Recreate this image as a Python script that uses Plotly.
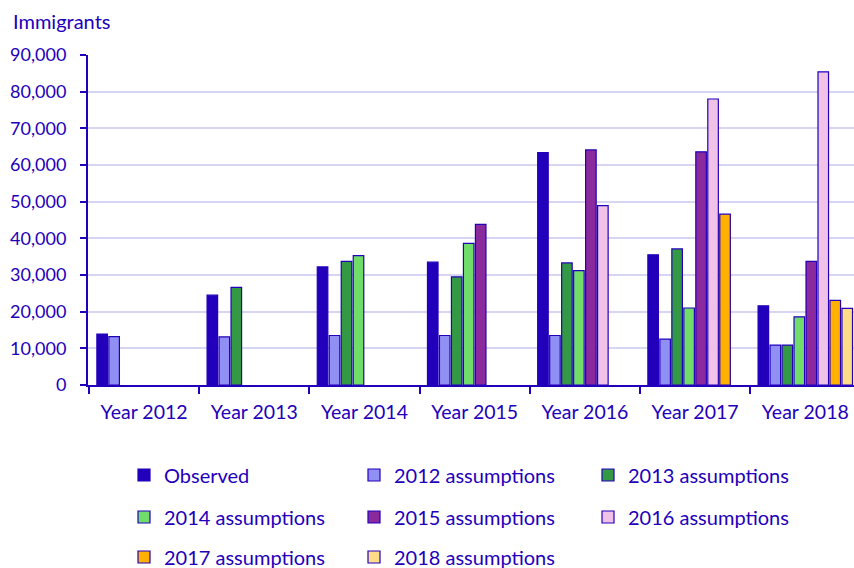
import plotly.graph_objects as go

years = ["Year 2012", "Year 2013", "Year 2014", "Year 2015", "Year 2016", "Year 2017", "Year 2018"]
observed = [13900, 24500, 32200, 33500, 63400, 35500, 21600]
ass2012 = [13200, 13100, 13500, 13500, 13500, 12500, 10900]
ass2013 = [None, 26600, 33700, 29500, 33300, 37100, 10900]
ass2014 = [None, None, 35300, 38600, 31200, 21000, 18600]
ass2015 = [None, None, None, 43800, 64100, 63600, 33700]
ass2016 = [None, None, None, None, 48900, 78000, 85400]
ass2017 = [None, None, None, None, None, 46600, 23100]
ass2018 = [None, None, None, None, None, None, 20900]

series_names = ["Observed", "2012 assumptions", "2013 assumptions", "2014 assumptions",
                "2015 assumptions", "2016 assumptions", "2017 assumptions", "2018 assumptions"]
series_values = [observed, ass2012, ass2013, ass2014, ass2015, ass2016, ass2017, ass2018]
colors = ["#2200bb", "#9090f4", "#339944", "#70dd6b", "#8b2a9c", "#f0c2e8", "#ffb000", "#ffdc88"]

BLUE = "#2200bb"
FONT = "Lato"
W, H = 854, 568

# legend grid (pixels): 3 columns, 3 rows
col_x = [124, 354, 588]
row_y = [475, 517, 557]

fig = go.Figure()
legend_layout = {}
for i, (name, vals, col) in enumerate(zip(series_names, series_values, colors)):
    lid = "legend" if i == 0 else f"legend{i + 1}"
    fig.add_trace(go.Bar(
        x=years, y=vals, name=name, legend=lid, showlegend=True,
        marker=dict(color=col, line=dict(color=BLUE, width=1.2)),
    ))
    r, c = divmod(i, 3)
    legend_layout[lid] = dict(
        orientation="h", x=col_x[c] / W, y=1 - row_y[r] / H,
        xanchor="left", yanchor="middle", xref="container", yref="container",
        itemwidth=30, font=dict(family=FONT, size=20, color=BLUE),
        bgcolor="rgba(0,0,0,0)")

fig.update_layout(
    width=W, height=H, showlegend=True,
    margin=dict(l=88, r=0, t=55, b=183, autoexpand=False),
    paper_bgcolor="white", plot_bgcolor="white",
    barmode="group", bargap=0.13, bargroupgap=0.12,
    font=dict(family=FONT, size=19, color=BLUE),
    title=dict(text="Immigrants", x=13 / W, xanchor="left", xref="container",
               y=1 - 22 / H, yanchor="middle", yref="container",
               font=dict(family=FONT, size=20, color=BLUE)),
    xaxis=dict(range=[-0.509, 6.442], showline=True, linecolor=BLUE, linewidth=2,
               ticks="outside", tickson="boundaries", ticklen=7, tickwidth=2, tickcolor=BLUE,
               ticklabelstandoff=9, automargin=False,
               tickfont=dict(family=FONT, size=19.5, color=BLUE), showgrid=False),
    yaxis=dict(range=[0, 90000], dtick=10000, tickformat=",d", showline=True, linecolor=BLUE,
               linewidth=2, ticks="outside", ticklen=6, tickwidth=2, tickcolor=BLUE,
               ticklabelstandoff=10,
               gridcolor="#d6d6f4", gridwidth=2, zeroline=False, automargin=False,
               tickfont=dict(family=FONT, size=18, color=BLUE)),
    **legend_layout,
)

fig.write_html("out.html", config={"displayModeBar": False},
               post_script="document.body.style.margin='0';document.body.style.overflow='hidden';")
